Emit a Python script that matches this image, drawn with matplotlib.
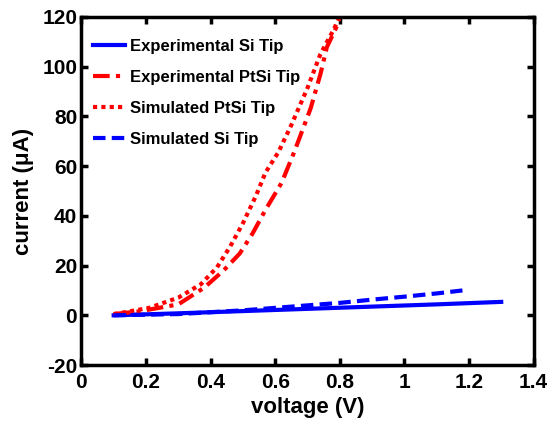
import matplotlib
matplotlib.use("Agg")
import matplotlib.pyplot as plt

# I-V curves
v_exp_si = [0.10, 0.30, 0.50, 0.70, 0.90, 1.10, 1.30]
i_exp_si = [0.0, 0.8, 1.7, 2.6, 3.5, 4.4, 5.4]

v_exp_ptsi = [0.10, 0.18, 0.30, 0.38, 0.44, 0.49, 0.53, 0.57, 0.62, 0.66, 0.71, 0.74, 0.76, 0.79, 0.80]
i_exp_ptsi = [0.5, 1.6, 4.4, 11.1, 18.0, 24.8, 32.9, 42.4, 53.3, 66.0, 83.3, 96.9, 107.8, 116.0, 120.0]

v_sim_ptsi = [0.10, 0.12, 0.21, 0.30, 0.37, 0.42, 0.46, 0.50, 0.54, 0.57, 0.61, 0.65, 0.70, 0.74, 0.78, 0.80]
i_sim_ptsi = [0.5, 0.9, 3.0, 7.1, 12.5, 19.3, 27.5, 37.0, 47.9, 57.4, 65.6, 76.5, 91.4, 105.0, 114.6, 120.0]

v_sim_si = [0.10, 0.30, 0.50, 0.70, 0.80, 0.90, 1.00, 1.10, 1.18]
i_sim_si = [0.0, 0.5, 2.0, 4.0, 5.0, 6.3, 7.5, 8.8, 10.0]

labels = ["Experimental Si Tip", "Experimental PtSi Tip",
          "Simulated PtSi Tip", "Simulated Si Tip"]

plt.rcParams['font.family'] = 'Liberation Sans'
plt.rcParams['font.weight'] = 'bold'
plt.rcParams['axes.unicode_minus'] = False

fig = plt.figure(figsize=(5.5, 4.23), dpi=100)
ax = fig.add_axes([0.148, 0.137, 0.822, 0.823])

lw = 3.0
ax.plot(v_exp_si, i_exp_si, color='#0000ff', lw=lw, ls='-', label=labels[0])
ax.plot(v_exp_ptsi, i_exp_ptsi, color='#ff0000', lw=lw, ls=(0, (4, 1.5, 1, 1.5)), label=labels[1])
ax.plot(v_sim_ptsi, i_sim_ptsi, color='#ff0000', lw=lw, ls=(0, (1, 1)), label=labels[2])
ax.plot(v_sim_si, i_sim_si, color='#0000ff', lw=lw, ls=(0, (3, 1.5)), label=labels[3])

ax.set_xlim(0, 1.4)
ax.set_ylim(-20, 120)
ax.set_xticks([0, 0.2, 0.4, 0.6, 0.8, 1, 1.2, 1.4])
ax.set_xticklabels(['0', '0.2', '0.4', '0.6', '0.8', '1', '1.2', '1.4'])
ax.set_yticks(range(-20, 121, 20))

ax.tick_params(direction='in', top=True, right=True, length=5, width=2.5,
               labelsize=15)
ax.tick_params(axis='x', pad=6)
ax.tick_params(axis='y', pad=3)
for s in ax.spines.values():
    s.set_linewidth(2.5)

ax.set_xlabel('voltage (V)', fontsize=16, fontweight='bold', labelpad=3)
ax.set_ylabel('current (\u03bcA)', fontsize=16, fontweight='bold', labelpad=6)

ax.legend(loc='upper left', frameon=False, fontsize=12, handlelength=1.9,
          handletextpad=0.3, labelspacing=0.95, borderaxespad=0.3,
          bbox_to_anchor=(0.0, 0.97))

fig.savefig('out.png', dpi=100)
